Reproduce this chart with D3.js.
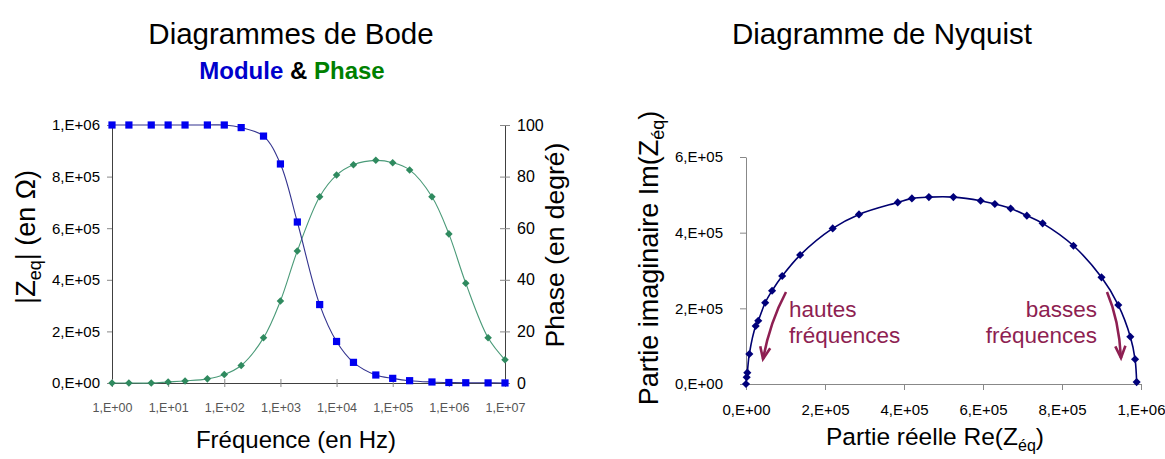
<!DOCTYPE html>
<html><head><meta charset="utf-8">
<script src="https://cdn.jsdelivr.net/npm/d3@7"></script>
<style>body{margin:0;background:#fff} text{font-family:"Liberation Sans",Arial,sans-serif}</style>
</head><body><svg id="c" width="1165" height="459"></svg>
<script>
// ---- Bode data ----
const frequencies = [1,2,5,10,20,50,100,200,500,1e3,2e3,5e3,1e4,2e4,5e4,1e5,2e5,5e5,1e6,2e6,5e6,1e7];
const moduleValues = [1e6,1e6,1e6,1e6,1e6,1e6,1e6,0.99e6,0.957e6,0.849e6,0.624e6,0.304e6,0.161e6,0.080e6,0.031e6,0.018e6,0.009e6,0.004e6,0.002e6,0.001e6,0.0005e6,0.0002e6];
const phaseValues = [0,0,0,0.4,0.8,1.6,3.3,6.8,17.5,31.8,51.2,72.2,80.6,84.6,86.3,85.4,82.6,72.2,57.8,38.7,17.5,9.0];
const freqTicks = [1,10,100,1e3,1e4,1e5,1e6,1e7];
const freqTickLabels = ["1,E+00","1,E+01","1,E+02","1,E+03","1,E+04","1,E+05","1,E+06","1,E+07"];
const moduleTicks = [0,2e5,4e5,6e5,8e5,1e6];
const moduleTickLabels = ["0,E+00","2,E+05","4,E+05","6,E+05","8,E+05","1,E+06"];
const phaseTicks = [0,20,40,60,80,100];
const phaseTickLabels = ["0","20","40","60","80","100"];
// ---- Nyquist data ----
const reValues = [0,0.0017e6,0.0033e6,0.0084e6,0.0245e6,0.031e6,0.0486e6,0.066e6,0.0916e6,0.137e6,0.2195e6,0.286e6,0.384e6,0.420e6,0.463e6,0.525e6,0.594e6,0.630e6,0.670e6,0.711e6,0.751e6,0.829e6,0.900e6,0.9425e6,0.973e6,0.985e6,0.989e6];
const imValues = [0,0.177e5,0.30e5,0.793e5,1.533e5,1.673e5,2.148e5,2.465e5,2.853e5,3.408e5,4.113e5,4.483e5,4.80e5,4.906e5,4.94e5,4.94e5,4.843e5,4.756e5,4.64e5,4.45e5,4.246e5,3.654e5,2.819e5,2.087e5,1.25e5,0.653e5,0.05e5];
const reTicks = [0,2e5,4e5,6e5,8e5,1e6];
const reTickLabels = ["0,E+00","2,E+05","4,E+05","6,E+05","8,E+05","1,E+06"];
const imTicks = [0,2e5,4e5,6e5];
const imTickLabels = ["0,E+00","2,E+05","4,E+05","6,E+05"];

const FF = "Liberation Sans, Arial, sans-serif";
const svg = d3.select("#c");
svg.append("rect").attr("width",1165).attr("height",459).attr("fill","#fff");

// ================= BODE =================
const bx = d3.scaleLog().domain([1,1e7]).range([112,505]);
const by = d3.scaleLinear().domain([0,1e6]).range([383,125]);
const bp = d3.scaleLinear().domain([0,100]).range([383,125]);
const axisCol = "#404040";

const gL = svg.append("g").attr("transform","translate(112,0)")
  .call(d3.axisLeft(by).tickValues(moduleTicks).tickSize(5).tickSizeOuter(0)
    .tickFormat((d,i)=>moduleTickLabels[i]));
gL.select(".domain").attr("stroke",axisCol);
gL.selectAll(".tick line").attr("stroke","#888");
gL.selectAll(".tick text").attr("font-size",15).attr("fill","#000").attr("x",-12).attr("font-family",FF);

const gR = svg.append("g").attr("transform","translate(505,0)")
  .call(d3.axisRight(bp).tickValues(phaseTicks).tickSize(5).tickSizeOuter(0)
    .tickFormat((d,i)=>phaseTickLabels[i]));
gR.select(".domain").attr("stroke",axisCol);
gR.selectAll(".tick line").attr("stroke","#888").attr("x1",-5);
gR.selectAll(".tick text").attr("font-size",16).attr("fill","#000").attr("x",12).attr("font-family",FF);

const gX = svg.append("g").attr("transform","translate(0,383)")
  .call(d3.axisBottom(bx).tickValues(freqTicks).tickSize(4).tickSizeOuter(0)
    .tickFormat((d,i)=>freqTickLabels[i]));
gX.select(".domain").attr("stroke",axisCol);
gX.selectAll(".tick line").attr("stroke","#888").attr("y1",-4);
gX.selectAll(".tick text").attr("font-size",12.5).attr("fill","#555").attr("y",20).attr("font-family",FF);

const curve = d3.curveCatmullRom.alpha(0.5);
const modLine = d3.line().x((d,i)=>bx(frequencies[i])).y(d=>by(d)).curve(curve);
const phLine = d3.line().x((d,i)=>bx(frequencies[i])).y(d=>bp(d)).curve(curve);

svg.append("path").attr("d",phLine(phaseValues)).attr("fill","none").attr("stroke","#4a9a78").attr("stroke-width",1.1);
svg.append("path").attr("d",modLine(moduleValues)).attr("fill","none").attr("stroke","#33338f").attr("stroke-width",1.1);

const diamond = d3.symbol().type(d3.symbolDiamond2).size(36);
svg.append("g").selectAll("path").data(phaseValues).join("path")
  .attr("d",diamond).attr("fill","#2f8a5f")
  .attr("transform",(d,i)=>`translate(${bx(frequencies[i])},${bp(d)})`);
const square = d3.symbol().type(d3.symbolSquare).size(52);
svg.append("g").selectAll("path").data(moduleValues).join("path")
  .attr("d",square).attr("fill","#0000f0")
  .attr("transform",(d,i)=>`translate(${bx(frequencies[i])},${by(d)})`);

// Titles
svg.append("text").attr("x",291).attr("y",44).attr("text-anchor","middle").attr("font-size",29.5).text("Diagrammes de Bode");
const sub = svg.append("text").attr("x",292).attr("y",79).attr("text-anchor","middle").attr("font-size",24).attr("font-weight","bold");
sub.append("tspan").attr("fill","#0000cc").text("Module");
sub.append("tspan").attr("fill","#000").text(" & ");
sub.append("tspan").attr("fill","#008000").text("Phase");

svg.append("text").attr("x",296).attr("y",448).attr("text-anchor","middle").attr("font-size",24).text("Fréquence (en Hz)");

const yl = svg.append("text").attr("transform","translate(35,237) rotate(-90)").attr("text-anchor","middle").attr("font-size",27);
yl.append("tspan").text("|Z");
yl.append("tspan").attr("font-size",18).attr("dy",6).text("eq");
yl.append("tspan").attr("dy",-6).text("| (en Ω)");

svg.append("text").attr("transform","translate(564,245) rotate(-90)").attr("text-anchor","middle").attr("font-size",26.5).text("Phase (en degré)");

// ================= NYQUIST =================
const nx = d3.scaleLinear().domain([0,1e6]).range([746,1141]);
const ny = d3.scaleLinear().domain([0,6e5]).range([384,157]);

const nY = svg.append("g").attr("transform","translate(746,0)")
  .call(d3.axisLeft(ny).tickValues(imTicks).tickSize(6).tickSizeOuter(0)
    .tickFormat((d,i)=>imTickLabels[i]));
nY.select(".domain").attr("stroke","#888");
nY.selectAll(".tick line").attr("stroke","#888");
nY.selectAll(".tick text").attr("font-size",15).attr("fill","#000").attr("x",-23).attr("font-family",FF);

const nX = svg.append("g").attr("transform","translate(0,384)")
  .call(d3.axisBottom(nx).tickValues(reTicks).tickSize(6).tickSizeOuter(0)
    .tickFormat((d,i)=>reTickLabels[i]));
nX.select(".domain").attr("stroke","#888");
nX.selectAll(".tick line").attr("stroke","#888");
nX.selectAll(".tick text").attr("font-size",15).attr("fill","#000").attr("y",20).attr("font-family",FF);

const nyqLine = d3.line().x(d=>nx(d[0])).y(d=>ny(d[1])).curve(d3.curveCatmullRom.alpha(0.5));
const nyqPts = reValues.map((r,i)=>[r,imValues[i]]);
svg.append("path").attr("d",nyqLine(nyqPts)).attr("fill","none").attr("stroke","#000070").attr("stroke-width",1.6);
const ndiamond = d3.symbol().type(d3.symbolDiamond2).size(42);
svg.append("g").selectAll("path").data(nyqPts).join("path")
  .attr("d",ndiamond).attr("fill","#00007a")
  .attr("transform",d=>`translate(${nx(d[0])},${ny(d[1])})`);

svg.append("text").attr("x",882).attr("y",44).attr("text-anchor","middle").attr("font-size",29.5).text("Diagramme de Nyquist");

const xl2 = svg.append("text").attr("x",935).attr("y",445).attr("text-anchor","middle").attr("font-size",24.5);
xl2.append("tspan").text("Partie réelle Re(Z");
xl2.append("tspan").attr("font-size",16).attr("dy",6).text("éq");
xl2.append("tspan").attr("dy",-6).text(")");

const yl2 = svg.append("text").attr("transform","translate(658,258) rotate(-90)").attr("text-anchor","middle").attr("font-size",27);
yl2.append("tspan").text("Partie imaginaire Im(Z");
yl2.append("tspan").attr("font-size",18).attr("dy",6).text("éq");
yl2.append("tspan").attr("dy",-6).text(")");

// annotations
const annCol = "#8e1f52";
svg.append("text").attr("x",789).attr("y",317).attr("font-size",22.5).attr("fill",annCol).text("hautes");
svg.append("text").attr("x",789).attr("y",343).attr("font-size",22.5).attr("fill",annCol).text("fréquences");
svg.append("text").attr("x",1097).attr("y",317).attr("text-anchor","end").attr("font-size",22.5).attr("fill",annCol).text("basses");
svg.append("text").attr("x",1097).attr("y",343).attr("text-anchor","end").attr("font-size",22.5).attr("fill",annCol).text("fréquences");

function arrow(x0,y0,cx,cy,x1,y1){
  svg.append("path").attr("d",`M${x0},${y0} Q${cx},${cy} ${x1},${y1}`).attr("fill","none").attr("stroke",annCol).attr("stroke-width",2.6);
  const a = Math.atan2(y1-cy,x1-cx), L=13, s=0.4;
  const p1=[x1-L*Math.cos(a-s),y1-L*Math.sin(a-s)], p2=[x1-L*Math.cos(a+s),y1-L*Math.sin(a+s)];
  svg.append("path").attr("d",`M${p1[0]},${p1[1]} L${x1},${y1} L${p2[0]},${p2[1]}`).attr("fill","none").attr("stroke",annCol).attr("stroke-width",2.6).attr("stroke-linejoin","miter");
}
arrow(786,292,770,322,763,359);
arrow(1107,292,1119,320,1121,358);
</script></body></html>
